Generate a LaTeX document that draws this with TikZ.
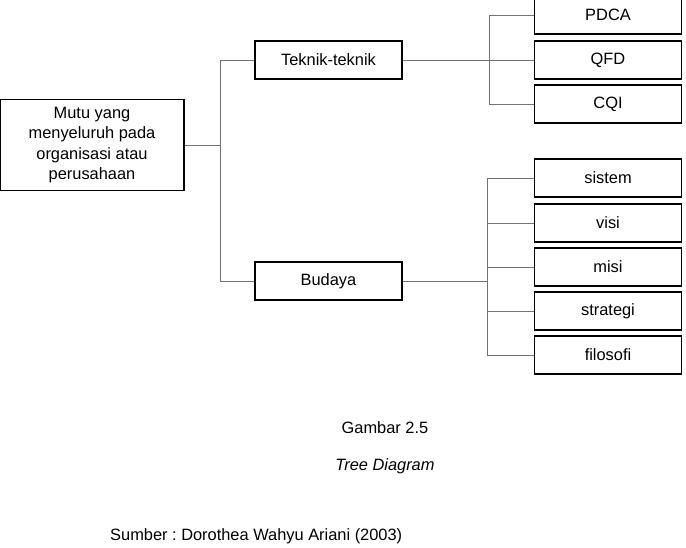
\documentclass[tikz,border=0pt]{standalone}
\usepackage{fontspec}
\setmainfont{Liberation Sans}
\usepackage{tikz}

\begin{document}
\frenchspacing
\begin{tikzpicture}[
  x=1pt, y=-1pt,
  box/.style={draw, line width=1.1pt, align=center, minimum width=147pt, minimum height=38pt, inner sep=0pt, font=\fontsize{16.4}{20.3}\selectfont},
  link/.style={draw=black!55, line width=0.9pt}
]
\useasboundingbox (0,0) rectangle (686,547);
\node[box, minimum width=184pt, minimum height=91pt] (root) at (92,145) {Mutu yang\\menyeluruh pada\\organisasi atau\\perusahaan};
\node[box] (teknik) at (328.5,60) {Teknik-teknik};
\node[box] (budaya) at (328.5,281) {Budaya};
\draw[link] (root.east) -- ++(36,0) |- (teknik.west);
\draw[link] (root.east) -- ++(36,0) |- (budaya.west);
% teknik
\node[box] (pdca) at (608,15) {PDCA};
\node[box] (qfd) at (608,60) {QFD};
\node[box] (cqi) at (608,104) {CQI};
\draw[link] (teknik.east) -- ++(87,0) |- (pdca.west);
\draw[link] (teknik.east) -- (qfd.west);
\draw[link] (teknik.east) -- ++(87,0) |- (cqi.west);
% budaya
\node[box] (sistem) at (608,178) {sistem};
\node[box] (visi) at (608,223) {visi};
\node[box] (misi) at (608,267) {misi};
\node[box] (strategi) at (608,311) {strategi};
\node[box] (filosofi) at (608,355) {filosofi};
\draw[link] (budaya.east) -- ++(85,0) |- (sistem.west);
\draw[link] (budaya.east) -- ++(85,0) |- (visi.west);
\draw[link] (budaya.east) -- ++(85,0) |- (misi.west);
\draw[link] (budaya.east) -- ++(85,0) |- (strategi.west);
\draw[link] (budaya.east) -- ++(85,0) |- (filosofi.west);
% keterangan
\node[font=\fontsize{16.4}{20}\selectfont] (gambar) at (385,428) {Gambar 2.5};
\node[font=\fontsize{16.4}{20}\selectfont\itshape] (judul) at (385,466) {Tree Diagram};
\node[font=\fontsize{16.4}{20}\selectfont, anchor=west, inner sep=0pt] (sumber) at (110,536) {Sumber : Dorothea Wahyu Ariani (2003)};
\end{tikzpicture}
\end{document}
